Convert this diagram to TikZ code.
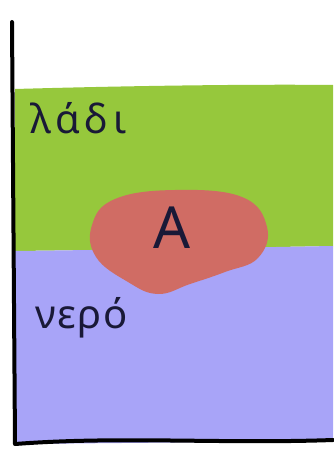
\documentclass[tikz,border=0pt]{standalone}
\usepackage{fontspec}
\setmainfont{Noto Sans}
\definecolor{oil}{RGB}{150,200,60}
\definecolor{water}{RGB}{168,164,248}
\definecolor{blob}{RGB}{208,108,100}
\definecolor{ink}{RGB}{25,25,55}
\tikzset{
  wall/.style={line width=4pt, black, line cap=round, line join=round},
  lbl/.style={text=ink, inner sep=0pt, anchor=west},
}
\begin{document}
\begin{tikzpicture}[x=1pt,y=-1pt]
\useasboundingbox (0,0) rectangle (333,452);
\fill[white] (0,0) rectangle (333,452);
% oil layer
\fill[oil] (15,89) .. controls (120,86) and (250,84) .. (333,85) -- (333,246) .. controls (220,248) and (100,250) .. (15,251) -- cycle;
% water layer
\fill[water] (15,251) .. controls (100,250) and (220,248) .. (333,246) -- (333,441) -- (15,444) -- cycle;
% blob
\fill[blob] plot[smooth cycle, tension=0.7] coordinates {(92,225) (115,199) (175,190) (242,197) (267,227) (258,258) (225,272) (190,284) (158,294) (128,282) (96,257)};
\node[inner sep=0pt, font=\fontsize{58}{58}\selectfont\color{ink}] (A) at (172,228) {A};
% labels
\node[lbl, font=\fontsize{40}{40}\selectfont\addfontfeatures{LetterSpace=12}] (oiltext) at (30,118) {λάδι};
\node[lbl, font=\fontsize{40}{40}\selectfont\addfontfeatures{LetterSpace=4}] (watertext) at (35,318) {νερό};
% container walls
\coordinate (top) at (12,22);
\coordinate (corner) at (15,444);
\coordinate (br) at (333,440);
\draw[wall] (top) -- (corner) .. controls (120,436) and (220,444) .. (br);
\end{tikzpicture}
\end{document}
